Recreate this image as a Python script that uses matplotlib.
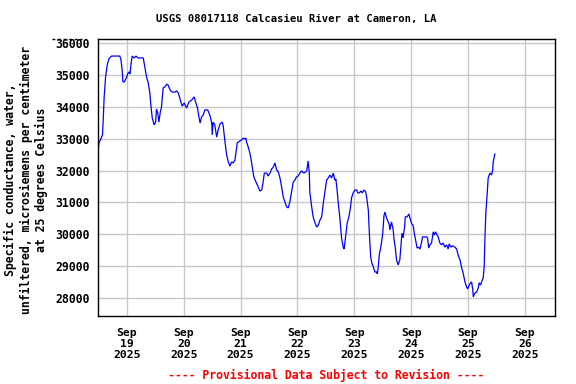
import matplotlib
matplotlib.use("Agg")
import matplotlib.pyplot as plt
from matplotlib.lines import Line2D

# Hours relative to 2025-09-19 00:00
hours = [-12.2, -11.8, -11.0, -10.3, -10.0, -9.6, -9.0, -8.3, -7.6, -6.5, -3.0, -2.5, -2.0, -1.7, -1.1, -0.1,
         0.5, 1.0, 1.3, 1.7, 2.2, 3.1, 3.8, 4.8, 6.9, 7.6, 8.3, 9.0, 9.7, 10.1, 10.7, 11.5, 12.1, 12.5, 13.0,
         13.5, 14.1, 14.6, 15.3, 16.0, 16.8, 17.4, 18.2, 19.1, 20.3, 21.0, 21.7, 22.8, 23.3, 24.2, 25.2, 26.2,
         27.3, 28.4, 29.0, 29.8, 30.4, 30.9, 31.5, 32.2, 32.9, 34.1, 35.0, 35.8, 36.0, 36.4, 37.1, 37.9, 38.5,
         39.3, 40.2, 40.6, 41.4, 42.1, 42.8, 43.5, 44.2, 44.9, 45.6, 46.0, 46.6, 47.7, 48.4, 49.1, 49.8, 50.2,
         50.5, 51.2, 51.9, 52.6, 53.1, 53.6, 54.5, 55.4, 56.1, 56.9, 57.5, 58.0, 59.0, 59.6, 60.4, 61.1, 61.8,
         62.5, 63.2, 63.9, 64.6, 65.3, 66.0, 66.7, 67.4, 68.1, 68.8, 69.5, 70.2, 70.9, 71.6, 72.3, 73.0, 73.7,
         74.7, 75.9, 76.5, 77.0, 77.2, 78.0, 78.6, 79.4, 80.1, 80.8, 81.5, 82.2, 82.9, 83.6, 84.3, 85.0, 85.7,
         86.4, 87.1, 87.8, 88.2, 88.8, 89.2, 89.9, 90.6, 91.3, 91.7, 92.0, 92.4, 93.0, 93.7, 94.4, 94.8, 95.5,
         96.2, 97.0, 97.4, 98.1, 98.8, 99.3, 100.1, 100.8, 101.2, 101.9, 102.3, 102.9, 103.4, 104.0, 104.7,
         105.4, 105.7, 106.1, 106.5, 107.1, 107.5, 108.0, 108.5, 108.9, 109.6, 110.3, 110.8, 111.0, 111.7,
         112.4, 112.8, 113.3, 113.8, 114.5, 115.2, 115.7, 116.1, 116.6, 117.2, 117.5, 118.3, 119.0, 119.5,
         120.2, 120.8, 121.3, 122.0, 122.5, 123.0, 123.7, 124.4, 124.8, 126.5, 126.9, 127.4, 127.9, 128.6,
         129.3, 129.7, 130.3, 130.7, 131.4, 132.1, 132.8, 133.5, 134.2, 134.9, 135.6, 136.0, 136.8, 137.5,
         138.4, 139.2, 139.8, 140.6, 141.3, 142.0, 142.7, 143.4, 143.8, 144.5, 145.1, 145.5, 146.0, 146.2,
         146.9, 147.6, 148.3, 148.7, 149.3, 149.7, 150.4, 150.8, 151.1, 151.5, 152.1, 152.5, 153.2, 153.9,
         154.4, 154.6, 155.0, 155.3]

conductance = [32580, 32870, 32990, 33120, 33590, 34310, 34930, 35310, 35500, 35590, 35590, 35470, 35150, 34780,
               34780, 34930, 35060, 35090, 35030, 35310, 35590, 35530, 35590, 35530, 35530, 35220, 34930, 34750,
               34430, 34060, 33650, 33430, 33520, 33930, 33810, 33520, 33840, 33990, 34590, 34620, 34710, 34680,
               34530, 34460, 34460, 34500, 34430, 34150, 34020, 34120, 33960, 34150, 34210, 34310, 34150, 33960,
               33680, 33490, 33680, 33740, 33900, 33900, 33740, 33490, 33120, 33520, 33430, 33050, 33270, 33460,
               33520, 33430, 32900, 32490, 32270, 32140, 32270, 32240, 32330, 32550, 32870, 32930, 32960, 33020,
               32990, 33020, 32900, 32740, 32550, 32270, 32020, 31800, 31640, 31490, 31360, 31390, 31640, 31920,
               31920, 31830, 31920, 32050, 32110, 32240, 32020, 31960, 31770, 31490, 31170, 31020, 30860, 30830,
               31020, 31330, 31640, 31700, 31800, 31830, 31920, 31990, 31920, 31990, 32300, 31920, 31330, 30860,
               30550, 30360, 30230, 30290, 30450, 30550, 30980, 31330, 31700, 31770, 31860, 31770, 31920, 31700,
               31740, 31330, 30980, 30510, 29890, 29600, 29540, 29730, 29980, 30360, 30550, 30860, 31140, 31300,
               31390, 31390, 31300, 31300, 31360, 31300, 31390, 31330, 31170, 30760, 30080, 29290, 29100, 28980,
               28820, 28820, 28760, 28980, 29350, 29570, 29760, 30040, 30580, 30700, 30510, 30390, 30290, 30140,
               30390, 30140, 29820, 29570, 29200, 29040, 29200, 29670, 30040, 29890, 30230, 30550, 30550, 30640,
               30510, 30330, 30290, 30040, 29760, 29570, 29600, 29540, 29760, 29920, 29920, 29890, 29570, 29670,
               29730, 30080, 29980, 30080, 30010, 29920, 29730, 29670, 29730, 29600, 29670, 29540, 29700, 29600,
               29640, 29600, 29540, 29350, 29200, 28950, 28760, 28510, 28350, 28290, 28410, 28480, 28510, 28260,
               28040, 28160, 28190, 28320, 28480, 28410, 28510, 28630, 28980, 29820, 30670, 31300, 31770, 31920,
               31860, 32020, 32270, 32400, 32520]

tick_hours = [0, 24, 48, 72, 96, 120, 144, 168]
tick_labels = ["Sep\n19\n2025", "Sep\n20\n2025", "Sep\n21\n2025", "Sep\n22\n2025",
               "Sep\n23\n2025", "Sep\n24\n2025", "Sep\n25\n2025", "Sep\n26\n2025"]
y_ticks = [28000, 29000, 30000, 31000, 32000, 33000, 34000, 35000, 36000]

title = "USGS 08017118 Calcasieu River at Cameron, LA"
ylabel = "Specific conductance, water,\nunfiltered, microsiemens per centimeter\nat 25 degrees Celsius"
footer = "---- Provisional Data Subject to Revision ----"

mono = "DejaVu Sans Mono"

fig = plt.figure(figsize=(5.76, 3.84), dpi=100)
ax = fig.add_axes([98 / 576, 1 - 316 / 384, (555 - 98) / 576, (316 - 39) / 384])

ax.plot(hours, conductance, color="#0000FF", lw=0.9, solid_joinstyle="miter")

ax.set_xlim(-12.2, 180.7)
ax.set_ylim(27440, 36125)
ax.set_xticks(tick_hours)
ax.set_xticklabels(tick_labels, fontfamily=mono, fontweight="bold", fontsize=8.2, linespacing=1.1)
ax.set_yticks(y_ticks)
ax.set_yticklabels([str(v) for v in y_ticks], fontfamily=mono, fontweight="bold", fontsize=8.3)
ax.tick_params(axis="both", length=0)
ax.tick_params(axis="x", pad=9)
ax.tick_params(axis="y", pad=6)
ax.grid(True, color="#C8C8C8", lw=1.0)
ax.set_axisbelow(True)
for s in ax.spines.values():
    s.set_linewidth(1.0)
    s.set_color("black")

fig.text(296 / 576, 1 - 19 / 384, title, ha="center", va="center",
         fontfamily=mono, fontsize=7.6, fontweight="bold")
fig.text(26 / 576, 1 - 180 / 384, ylabel, ha="center", va="center", rotation=90,
         fontfamily=mono, fontweight="bold", fontsize=8.3, linespacing=1.25, multialignment="center")
fig.text(326 / 576, 1 - 375 / 384, footer, ha="center", va="center", color="red",
         fontfamily=mono, fontweight="bold", fontsize=8.3)

fig.add_artist(Line2D([52 / 576, 82 / 576], [1 - 39 / 384, 1 - 39 / 384], color="black",
                      lw=1.0, linestyle=(0, (2, 2)), transform=fig.transFigure))

fig.savefig("out.png", dpi=100, facecolor="white")
